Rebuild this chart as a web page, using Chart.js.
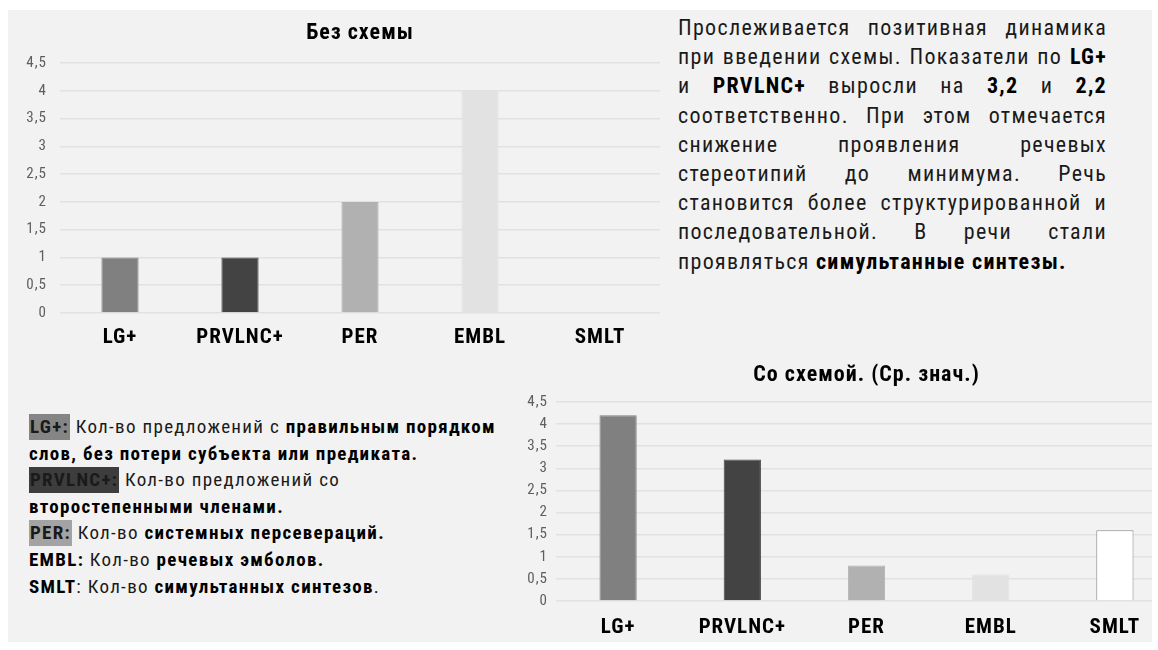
<!DOCTYPE html>
<html>
<head>
<meta charset="utf-8">
<script src="https://cdn.jsdelivr.net/npm/chart.js@4.4.1/dist/chart.umd.min.js"></script>
<style>
    html, body {
        margin: 0;
        padding: 0;
        background: #ffffff;
    }
    body {
        width: 1158px;
        height: 650px;
        position: relative;
        overflow: hidden;
        font-family: "Roboto Condensed", "Liberation Sans Narrow", "DejaVu Sans Condensed", sans-serif;
        color: #1a1a1a;
    }
    #panel {
        position: absolute;
        left: 8px;
        top: 10px;
        width: 1144px;
        height: 632px;
        background: #f2f2f2;
        overflow: hidden;
    }
    .chart-box {
        position: absolute;
    }
    #box_before { left: 0px; top: 0px; width: 652px; height: 345px; }
    #box_after { left: 492px; top: 340px; width: 677px; height: 300px; }

    #summary {
        position: absolute;
        left: 670px;
        top: 3px;
        width: 429px;
        font-size: 22px;
        letter-spacing: 1.3px;
        line-height: 29.2px;
    }
    #summary div {
        text-align: justify;
        text-align-last: justify;
        white-space: nowrap;
    }
    #summary div.last {
        text-align-last: left;
    }
    #legend {
        position: absolute;
        left: 21px;
        top: 404px;
        font-size: 19px;
        letter-spacing: 1.3px;
        line-height: 26.6px;
        white-space: nowrap;
    }
    #legend div { height: 26.6px; }
    b { font-weight: bold; color: #000; }
    .mark {
        display: inline-block;
        height: 26px;
        line-height: 26px;
        padding: 0 1px;
        font-weight: bold;
        vertical-align: top;
    }
    .m1 { background: #858585; }
    .m2 { background: #3d3d3d; }
    .m3 { background: #a3a3a3; }
</style>
</head>
<body>
<div id="panel">
    <div class="chart-box" id="box_before"><canvas id="chart_before"></canvas></div>
    <div class="chart-box" id="box_after"><canvas id="chart_after"></canvas></div>

    <div id="summary">
        <div>Прослеживается позитивная динамика</div>
        <div>при введении схемы. Показатели по <b>LG+</b></div>
        <div>и <b>PRVLNC+</b> выросли на <b>3,2</b> и <b>2,2</b></div>
        <div>соответственно. При этом отмечается</div>
        <div>снижение проявления речевых</div>
        <div>стереотипий до минимума. Речь</div>
        <div>становится более структурированной и</div>
        <div>последовательной. В речи стали</div>
        <div class="last">проявляться <b>симультанные синтезы.</b></div>
    </div>

    <div id="legend">
        <div><span class="mark m1">LG+:</span> Кол-во предложений с <b>правильным порядком</b></div>
        <div><b>слов, без потери субъекта или предиката.</b></div>
        <div><span class="mark m2">PRVLNC+:</span> Кол-во предложений со</div>
        <div><b>второстепенными членами.</b></div>
        <div><span class="mark m3">PER:</span> Кол-во <b>системных персевераций.</b></div>
        <div><b>EMBL:</b> Кол-во <b>речевых эмболов.</b></div>
        <div><b>SMLT</b>: Кол-во <b>симультанных синтезов</b>.</div>
    </div>
</div>

<script>
const FONT = '"Roboto Condensed", "Liberation Sans Narrow", "DejaVu Sans Condensed", sans-serif';

// categories shared by both charts
const categories = ['LG+', 'PRVLNC+', 'PER', 'EMBL', 'SMLT'];

// values without the scheme
const valuesBefore = [1, 1, 2, 4, 0];

// mean values with the scheme
const valuesAfter = [4.2, 3.2, 0.8, 0.6, 1.6];

// y axis
const yMax = 4.5;
const yStep = 0.5;

const barFill = ['#808080', '#434343', '#b1b1b1', '#e2e2e2', '#ffffff'];
const barEdge = ['#808080', '#434343', '#b1b1b1', '#e2e2e2', '#8c8c8c'];

// canvas text is a little spaced out, same as the html text
const spacedText = {
    id: 'spacedText',
    beforeLayout: (chart) => { chart.ctx.letterSpacing = '1px'; },
    beforeDraw: (chart) => { chart.ctx.letterSpacing = '1px'; }
};

function makeBarChart(canvas, title, values, opt) {
    return new Chart(canvas.getContext('2d'), {
        type: 'bar',
        plugins: [spacedText],
        data: {
            labels: categories,
            datasets: [{
                data: values,
                backgroundColor: barFill,
                borderColor: barEdge,
                borderWidth: 1,
                barPercentage: opt.barPct,
                categoryPercentage: 1
            }]
        },
        options: {
            responsive: true,
            maintainAspectRatio: false,
            animation: false,
            layout: { padding: 0 },
            plugins: {
                legend: { display: false },
                tooltip: { enabled: false },
                title: {
                    display: true,
                    fullSize: false,
                    text: title,
                    color: '#000',
                    font: { family: FONT, size: 22, weight: 'bold' },
                    padding: { top: opt.titleTop, bottom: opt.titleBottom }
                }
            },
            scales: {
                x: {
                    grid: { display: false, drawTicks: false },
                    border: { display: false },
                    ticks: {
                        color: '#000',
                        padding: opt.xPad,
                        font: { family: FONT, size: 21, weight: 'bold' }
                    },
                    afterFit: (scale) => { scale.height = opt.xHeight; }
                },
                y: {
                    min: 0,
                    max: yMax,
                    grid: { color: '#e1e1e1', lineWidth: 1.5, drawTicks: false },
                    border: { display: false },
                    ticks: {
                        stepSize: yStep,
                        color: '#5e5e5e',
                        padding: opt.yPad,
                        font: { family: FONT, size: 15 },
                        callback: (v) => String(v).replace('.', ',')
                    },
                    afterFit: (scale) => { scale.width = opt.yWidth; }
                }
            }
        }
    });
}

//---------------------------------------------------------------
// WITHOUT SCHEME
//---------------------------------------------------------------
makeBarChart(document.getElementById('chart_before'), 'Без схемы', valuesBefore, {
    titleTop: 10, titleBottom: 16.6,
    yWidth: 52, yPad: 13,
    xHeight: 42, xPad: 12,
    barPct: 0.31
});

//---------------------------------------------------------------
// WITH SCHEME (MEAN)
//---------------------------------------------------------------
makeBarChart(document.getElementById('chart_after'), 'Со схемой. (Ср. знач.)', valuesAfter, {
    titleTop: 11.8, titleBottom: 13.8,
    yWidth: 56, yPad: 8,
    xHeight: 49, xPad: 14,
    barPct: 0.3
});
</script>
</body>
</html>
